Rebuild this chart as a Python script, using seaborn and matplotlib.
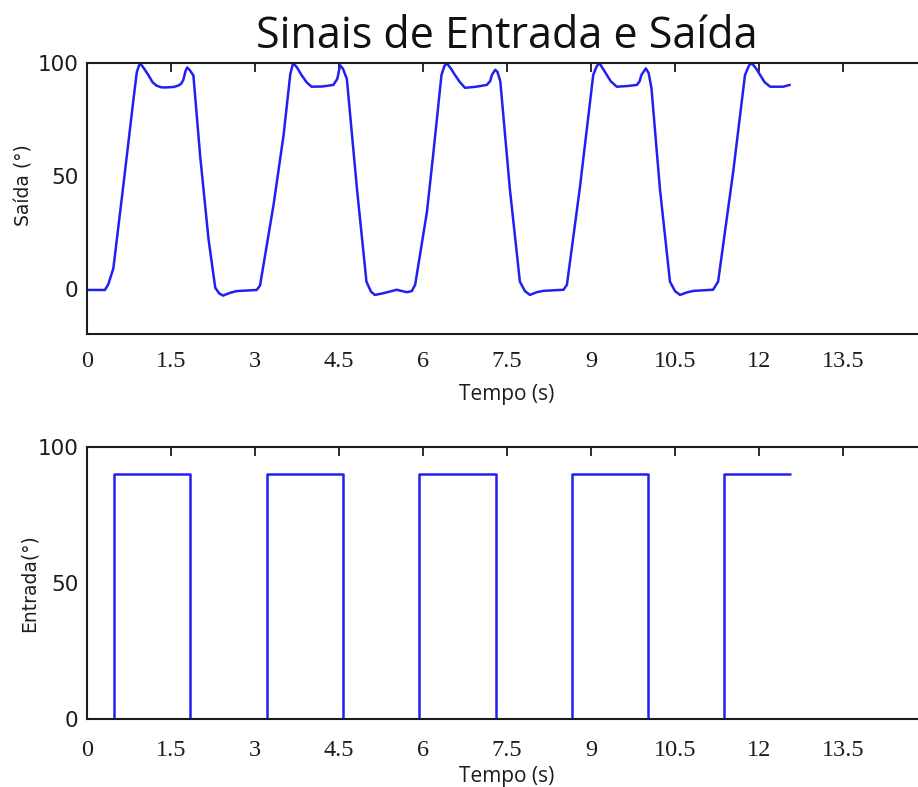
import matplotlib
matplotlib.use("Agg")
import matplotlib.pyplot as plt
import seaborn as sns
import pandas as pd

# ---- data ----
saida_t = [0.00, 0.32, 0.38, 0.47, 0.65, 0.83, 0.89, 0.93, 0.96, 1.02, 1.10, 1.17, 1.24, 1.33,
           1.42, 1.55, 1.63, 1.68, 1.72, 1.76, 1.79, 1.83, 1.90,
           2.02, 2.17, 2.29, 2.36, 2.43, 2.55, 2.67, 3.03,
           3.09, 3.33, 3.51, 3.63, 3.68, 3.75, 3.83, 3.92, 4.01, 4.20, 4.40, 4.47, 4.52, 4.57,
           4.64, 4.82, 4.99, 5.07, 5.14, 5.28, 5.41, 5.53, 5.71, 5.80,
           5.86, 6.07, 6.18, 6.33, 6.38, 6.42, 6.50, 6.57, 6.66, 6.75, 6.95, 7.14, 7.20, 7.23,
           7.29, 7.33, 7.38, 7.55, 7.73, 7.82, 7.91, 8.03, 8.15, 8.51,
           8.57, 8.80, 9.04, 9.10, 9.15, 9.25, 9.35, 9.46, 9.65, 9.82, 9.87, 9.90, 9.98, 10.03,
           10.08, 10.23, 10.41, 10.50, 10.59, 10.71, 10.83, 11.18,
           11.27, 11.54, 11.75, 11.82, 11.87, 11.95, 12.02, 12.10, 12.20, 12.43, 12.55]
saida_v = [-0.5, -0.5, 2.0, 9.0, 46.0, 84.0, 96.0, 99.0, 99.5, 97.5, 94.5, 91.5, 90.0, 89.2,
           89.2, 89.4, 90.0, 90.8, 92.5, 96.5, 98.0, 97.0, 94.5,
           59.0, 22.0, 0.5, -2.0, -3.0, -1.8, -1.0, -0.5,
           1.5, 37.0, 68.0, 95.0, 100.0, 98.0, 94.7, 91.5, 89.5, 89.6, 90.3, 93.0, 99.0, 97.5,
           93.0, 44.5, 3.2, -1.2, -2.7, -2.0, -1.2, -0.4, -1.5, -1.0,
           1.8, 34.0, 59.0, 94.7, 98.5, 100.0, 97.5, 94.7, 91.5, 89.0, 89.5, 90.3, 92.0, 94.7,
           97.0, 96.0, 92.0, 44.5, 3.2, -1.0, -2.7, -1.5, -0.9, -0.4,
           1.8, 44.5, 94.7, 98.5, 100.0, 96.0, 92.0, 89.5, 89.8, 90.3, 92.0, 94.7, 97.6, 95.5,
           88.8, 44.5, 3.2, -1.0, -2.7, -1.6, -0.9, -0.4,
           3.2, 52.0, 94.7, 98.8, 100.0, 97.5, 94.7, 91.5, 89.5, 89.5, 90.3]

entrada_t = [0.00, 0.48, 1.84, 3.22, 4.58, 5.93, 7.31, 8.66, 10.02, 11.38, 12.55]
entrada_v = [0, 90, 0, 90, 0, 90, 0, 90, 0, 90, 90]

x_ticks = [0, 1.5, 3, 4.5, 6, 7.5, 9, 10.5, 12, 13.5]
x_ticklabels = ["0", "1.5", "3", "4.5", "6", "7.5", "9", "10.5", "12", "13.5"]
y_ticks = [0, 50, 100]
y_ticklabels = ["0", "50", "100"]

title = "Sinais de Entrada e Saída"
xlabel = "Tempo (s)"
ylabel_top = "Saída (°)"
ylabel_bottom = "Entrada(°)"

# ---- style ----
sns.set_style("white")
plt.rcParams["font.family"] = ["DejaVu Sans"]

LINE = "#2020f2"
DARK = "#1c1c1c"

df_out = pd.DataFrame({"t": saida_t, "v": saida_v})
df_in = pd.DataFrame({"t": entrada_t, "v": entrada_v})

fig = plt.figure(figsize=(9.18, 7.87), dpi=100)
W, H = 918, 787


def px_axes(left, top, right, bottom):
    return fig.add_axes([left / W, 1 - bottom / H, (right - left) / W, (bottom - top) / H])


ax1 = px_axes(87, 63, 927, 334)
ax2 = px_axes(87, 447, 927, 719)

sns.lineplot(data=df_out, x="t", y="v", ax=ax1, color=LINE, linewidth=1.8,
             sort=False, estimator=None)
sns.lineplot(data=df_in, x="t", y="v", ax=ax2, color=LINE, linewidth=1.8,
             sort=False, estimator=None, drawstyle="steps-post")

for ax, ylim, ylab, labx, tpad, lpad in ((ax1, (-20, 100), ylabel_top, -0.064, 12, 9),
                                         (ax2, (0, 100), ylabel_bottom, -0.058, 15, 4)):
    ax.set_xlim(0, 15)
    ax.set_ylim(*ylim)
    ax.set_xticks(x_ticks)
    ax.set_xticklabels(x_ticklabels, fontfamily="Liberation Serif", fontsize=17.5, color=DARK)
    ax.set_yticks(y_ticks)
    ax.set_yticklabels(y_ticklabels, fontfamily="DejaVu Sans", fontsize=15.5, color=DARK)
    ax.tick_params(axis="both", direction="in", length=6.5, width=1.3, color=DARK,
                   top=True, right=True)
    ax.tick_params(axis="x", pad=tpad)
    ax.tick_params(axis="y", pad=6)
    for s in ax.spines.values():
        s.set_linewidth(1.5)
        s.set_color(DARK)
        s.set_visible(True)
    ax.set_xlabel(xlabel, fontfamily="Open Sans", fontsize=15, color=DARK, labelpad=lpad)
    ax.set_ylabel(ylab, fontfamily="DejaVu Sans", fontsize=13.5, color=DARK)
    ax.yaxis.set_label_coords(labx, 0.5)

ax1.yaxis.set_label_coords(-0.064, 0.55)
ax1.set_title(title, fontfamily="Open Sans", fontsize=31, color="#111111", pad=11)

fig.savefig("out.png", dpi=100)
